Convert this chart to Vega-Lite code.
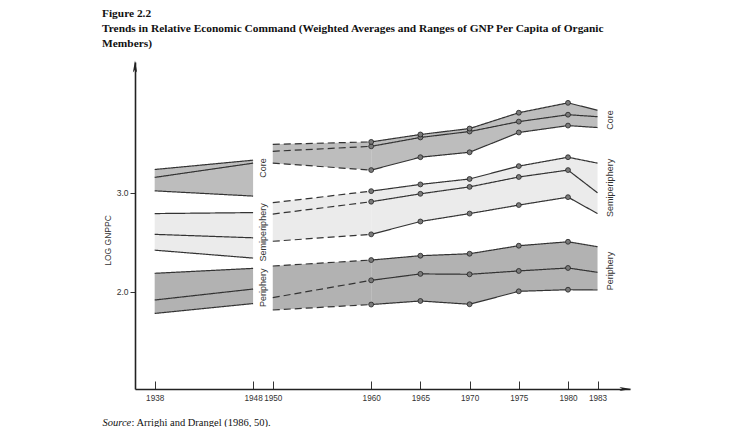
{
  "$schema": "https://vega.github.io/schema/vega-lite/v6.json",
  "autosize": {"type": "none"},
  "width": 495,
  "height": 327,
  "padding": {"left": 135, "top": 62, "right": 104, "bottom": 38},
  "background": "white",
  "config": {
    "view": {"stroke": null},
    "axis": {"grid": false, "domainColor": "#222", "domainWidth": 1.6, "tickColor": "#333", "labelColor": "#333", "labelFont": "Liberation Sans", "labelFontSize": 8.2},
    "axisY": {
      "tickSize": 5,
      "labelPadding": 2,
      "labelFontSize": 8.5,
      "titleX": -28,
      "titleY": 178,
      "titleAngle": -90,
      "titleAlign": "center",
      "titleBaseline": "middle",
      "titleFont": "Liberation Sans",
      "titleFontSize": 8.5,
      "titleFontWeight": "normal",
      "titleColor": "#333"
    }
  },
  "title": {
    "text": ["Figure 2.2", "Trends in Relative Economic Command (Weighted Averages and Ranges of GNP Per Capita of Organic", "Members)"],
    "anchor": "start",
    "frame": "group",
    "dx": -33,
    "offset": 11,
    "font": "Liberation Serif",
    "fontSize": 11.4,
    "fontWeight": "bold",
    "lineHeight": 15,
    "color": "#111"
  },
  "datasets": {
    "bands": [
      {"group": "Core", "seg": "a", "year": 1938, "lo": 3.02, "mid": 3.156, "hi": 3.236},
      {"group": "Core", "seg": "a", "year": 1948, "lo": 2.967, "mid": 3.30, "hi": 3.33},
      {"group": "Core", "seg": "b", "year": 1950, "lo": 3.30, "mid": 3.42, "hi": 3.49},
      {"group": "Core", "seg": "b", "year": 1960, "lo": 3.23, "mid": 3.47, "hi": 3.515},
      {"group": "Core", "seg": "c", "year": 1960, "lo": 3.23, "mid": 3.47, "hi": 3.515},
      {"group": "Core", "seg": "c", "year": 1965, "lo": 3.36, "mid": 3.56, "hi": 3.59},
      {"group": "Core", "seg": "c", "year": 1970, "lo": 3.41, "mid": 3.62, "hi": 3.65},
      {"group": "Core", "seg": "c", "year": 1975, "lo": 3.61, "mid": 3.72, "hi": 3.81},
      {"group": "Core", "seg": "c", "year": 1980, "lo": 3.68, "mid": 3.79, "hi": 3.91},
      {"group": "Core", "seg": "c", "year": 1983, "lo": 3.66, "mid": 3.77, "hi": 3.835},
      {"group": "Semiperiphery", "seg": "a", "year": 1938, "lo": 2.42, "mid": 2.58, "hi": 2.79},
      {"group": "Semiperiphery", "seg": "a", "year": 1948, "lo": 2.34, "mid": 2.545, "hi": 2.80},
      {"group": "Semiperiphery", "seg": "b", "year": 1950, "lo": 2.51, "mid": 2.785, "hi": 2.90},
      {"group": "Semiperiphery", "seg": "b", "year": 1960, "lo": 2.58, "mid": 2.91, "hi": 3.017},
      {"group": "Semiperiphery", "seg": "c", "year": 1960, "lo": 2.58, "mid": 2.91, "hi": 3.017},
      {"group": "Semiperiphery", "seg": "c", "year": 1965, "lo": 2.71, "mid": 2.99, "hi": 3.085},
      {"group": "Semiperiphery", "seg": "c", "year": 1970, "lo": 2.79, "mid": 3.06, "hi": 3.14},
      {"group": "Semiperiphery", "seg": "c", "year": 1975, "lo": 2.876, "mid": 3.16, "hi": 3.27},
      {"group": "Semiperiphery", "seg": "c", "year": 1980, "lo": 2.956, "mid": 3.23, "hi": 3.36},
      {"group": "Semiperiphery", "seg": "c", "year": 1983, "lo": 2.79, "mid": 3.00, "hi": 3.30},
      {"group": "Periphery", "seg": "a", "year": 1938, "lo": 1.78, "mid": 1.916, "hi": 2.186},
      {"group": "Periphery", "seg": "a", "year": 1948, "lo": 1.88, "mid": 2.027, "hi": 2.236},
      {"group": "Periphery", "seg": "b", "year": 1950, "lo": 1.815, "mid": 1.94, "hi": 2.26},
      {"group": "Periphery", "seg": "b", "year": 1960, "lo": 1.87, "mid": 2.115, "hi": 2.32},
      {"group": "Periphery", "seg": "c", "year": 1960, "lo": 1.87, "mid": 2.115, "hi": 2.32},
      {"group": "Periphery", "seg": "c", "year": 1965, "lo": 1.906, "mid": 2.18, "hi": 2.364},
      {"group": "Periphery", "seg": "c", "year": 1970, "lo": 1.873, "mid": 2.176, "hi": 2.384},
      {"group": "Periphery", "seg": "c", "year": 1975, "lo": 2.004, "mid": 2.21, "hi": 2.465},
      {"group": "Periphery", "seg": "c", "year": 1980, "lo": 2.02, "mid": 2.24, "hi": 2.505},
      {"group": "Periphery", "seg": "c", "year": 1983, "lo": 2.017, "mid": 2.196, "hi": 2.455}
    ],
    "labels": [
      {"label": "Core", "year": 1949, "v": 3.25},
      {"label": "Semiperiphery", "year": 1949, "v": 2.60},
      {"label": "Periphery", "year": 1949, "v": 2.04},
      {"label": "Core", "year": 1984.3, "v": 3.736},
      {"label": "Semiperiphery", "year": 1984.3, "v": 3.05},
      {"label": "Periphery", "year": 1984.3, "v": 2.21}
    ],
    "arrows": [
      {"dir": "up", "year": 1936, "v": 4.323},
      {"dir": "right", "year": 1986.3, "v": 1.016}
    ]
  },
  "resolve": {"axis": {"x": "independent"}},
  "layer": [
    {
      "data": {"name": "bands"},
      "mark": {"type": "area", "opacity": 1},
      "encoding": {
        "x": {
          "field": "year", "type": "quantitative",
          "scale": {"domain": [1936, 1986.3], "nice": false, "zero": false},
          "axis": {
            "orient": "bottom",
            "values": [1938, 1948, 1950, 1960, 1965, 1970, 1975, 1980, 1983],
            "format": "d",
            "tickSize": -8,
            "tickWidth": 1,
            "labelPadding": 13,
            "labelFlush": false,
            "labelOverlap": false,
            "title": ": Arrighi and Drangel (1986, 50).",
            "titleX": -4,
            "titleY": 36,
            "titleAlign": "left",
            "titleAnchor": "start",
            "titleBaseline": "alphabetic",
            "titleFont": "Liberation Serif",
            "titleFontSize": 10.5,
            "titleFontWeight": "normal",
            "titleColor": "#111"
          }
        },
        "y": {
          "field": "lo", "type": "quantitative",
          "scale": {"domain": [1.016, 4.323], "nice": false, "zero": false},
          "axis": {"title": "LOG GNPPC", "values": [2, 3], "format": ".1f"}
        },
        "y2": {"field": "hi"},
        "detail": {"field": "seg"},
        "color": {
          "field": "group", "type": "nominal",
          "scale": {"domain": ["Core", "Semiperiphery", "Periphery"], "range": ["#bdbdbd", "#ebebeb", "#b2b2b2"]},
          "legend": null
        }
      }
    },
    {
      "data": {"name": "bands"},
      "transform": [{"fold": ["lo", "mid", "hi"], "as": ["k", "v"]}],
      "mark": {"type": "line", "color": "#333", "strokeWidth": 1.2},
      "encoding": {
        "x": {"field": "year", "type": "quantitative", "scale": {"domain": [1936, 1986.3], "nice": false, "zero": false}, "axis": null},
        "y": {"field": "v", "type": "quantitative", "scale": {"domain": [1.016, 4.323], "nice": false, "zero": false}, "axis": {"title": "LOG GNPPC", "values": [2, 3], "format": ".1f"}},
        "detail": [{"field": "group"}, {"field": "seg"}, {"field": "k"}],
        "strokeDash": {
          "field": "seg", "type": "nominal",
          "scale": {"domain": ["a", "b", "c"], "range": [[1, 0], [7, 4], [1, 0]]},
          "legend": null
        }
      }
    },
    {
      "data": {"name": "bands"},
      "transform": [
        {"filter": "datum.seg == 'c' && datum.year <= 1980"},
        {"fold": ["lo", "mid", "hi"], "as": ["k", "v"]}
      ],
      "mark": {"type": "point", "filled": true, "fill": "#7a7a7a", "stroke": "#222", "strokeWidth": 0.8, "size": 24, "opacity": 1},
      "encoding": {
        "x": {"field": "year", "type": "quantitative", "scale": {"domain": [1936, 1986.3], "nice": false, "zero": false}, "axis": null},
        "y": {"field": "v", "type": "quantitative", "scale": {"domain": [1.016, 4.323], "nice": false, "zero": false}, "axis": {"title": "LOG GNPPC", "values": [2, 3], "format": ".1f"}}
      }
    },
    {
      "data": {"name": "labels"},
      "mark": {"type": "text", "angle": 270, "align": "center", "baseline": "middle", "font": "Liberation Sans", "fontSize": 9, "color": "#333"},
      "encoding": {
        "x": {
          "field": "year", "type": "quantitative",
          "scale": {"domain": [1936, 1986.3], "nice": false, "zero": false},
          "axis": {
            "orient": "bottom",
            "labels": false, "ticks": false, "domain": false,
            "title": "Source",
            "titleX": -33,
            "titleY": 36,
            "titleAlign": "left",
            "titleAnchor": "start",
            "titleBaseline": "alphabetic",
            "titleFont": "Liberation Serif",
            "titleFontSize": 10.5,
            "titleFontStyle": "italic",
            "titleFontWeight": "normal",
            "titleColor": "#111"
          }
        },
        "y": {"field": "v", "type": "quantitative", "scale": {"domain": [1.016, 4.323], "nice": false, "zero": false}, "axis": {"title": "LOG GNPPC", "values": [2, 3], "format": ".1f"}},
        "text": {"field": "label"}
      }
    },
    {
      "data": {"name": "arrows"},
      "mark": {"type": "point", "filled": true, "color": "#222", "size": 200, "opacity": 1},
      "encoding": {
        "x": {"field": "year", "type": "quantitative", "scale": {"domain": [1936, 1986.3], "nice": false, "zero": false}, "axis": null},
        "y": {"field": "v", "type": "quantitative", "scale": {"domain": [1.016, 4.323], "nice": false, "zero": false}, "axis": {"title": "LOG GNPPC", "values": [2, 3], "format": ".1f"}},
        "shape": {
          "field": "dir", "type": "nominal",
          "scale": {"domain": ["up", "right"], "range": ["M0,-0.2L0.3,1.5L0,1.1L-0.3,1.5Z", "M0.2,0L-1.5,-0.3L-1.1,0L-1.5,0.3Z"]},
          "legend": null
        }
      }
    }
  ]
}
